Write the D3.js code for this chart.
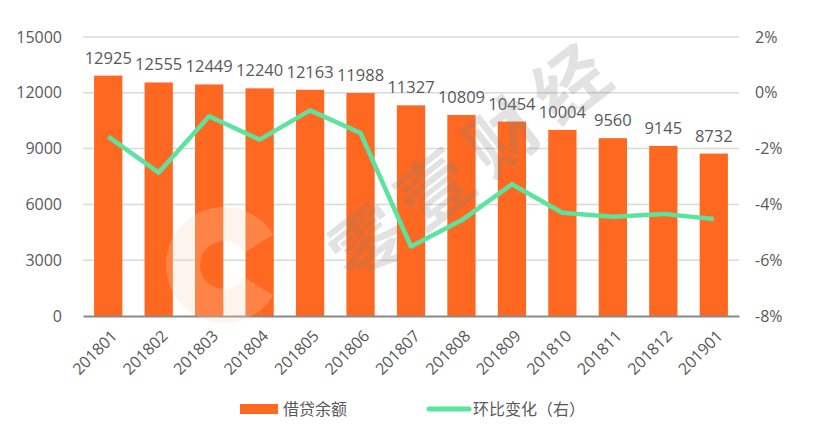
<!DOCTYPE html>
<html>
<head>
<meta charset="utf-8">
<script src="https://cdn.jsdelivr.net/npm/d3@7"></script>
<style>
  body { margin: 0; background: #fff; }
  text { font-family: "Open Sans", "Noto Sans CJK SC", sans-serif; }
</style>
</head>
<body>
<svg id="chart"></svg>
<script>
// Data
const months = ["201801", "201802", "201803", "201804", "201805", "201806", "201807",
                "201808", "201809", "201810", "201811", "201812", "201901"];
const balance = [12925, 12555, 12449, 12240, 12163, 11988, 11327, 10809, 10454, 10004, 9560, 9145, 8732];
const momChange = [-1.57, -2.86, -0.84, -1.68, -0.63, -1.44, -5.51, -4.57, -3.28, -4.30, -4.44, -4.34, -4.52];
const leftTicks = [0, 3000, 6000, 9000, 12000, 15000];
const rightTicks = [-8, -6, -4, -2, 0, 2];

const width = 819, height = 425;
const margin = {top: 37, right: 80, bottom: 109, left: 83};
const barColor = "#fe6821";
const lineColor = "#5ce3a0";
const textColor = "#595959";

const svg = d3.select("#chart")
    .attr("width", width)
    .attr("height", height);

// Scales
const x = d3.scaleBand()
    .domain(months)
    .range([margin.left, width - margin.right])
    .paddingInner(0.44)
    .paddingOuter(0.22);

const yLeft = d3.scaleLinear()
    .domain([0, 15000])
    .range([height - margin.bottom, margin.top]);

const yRight = d3.scaleLinear()
    .domain([-8, 2])
    .range([height - margin.bottom, margin.top]);

// Grid lines
svg.append("g")
    .selectAll("line")
    .data(leftTicks.slice(1))
    .enter()
    .append("line")
    .attr("x1", margin.left)
    .attr("x2", width - margin.right)
    .attr("y1", d => yLeft(d))
    .attr("y2", d => yLeft(d))
    .attr("stroke", "#d9d9d9")
    .attr("stroke-width", 1.5);

// Left axis
const leftAxis = svg.append("g")
    .attr("transform", `translate(${margin.left},0)`)
    .call(d3.axisLeft(yLeft).tickValues(leftTicks).tickSize(0).tickPadding(21)
        .tickFormat(d3.format("d")));
leftAxis.select(".domain").remove();
leftAxis.selectAll("text").attr("fill", textColor).style("font-size", "16px");

// Right axis
const rightAxis = svg.append("g")
    .attr("transform", `translate(${width - margin.right},0)`)
    .call(d3.axisRight(yRight).tickValues(rightTicks).tickSize(0).tickPadding(16)
        .tickFormat(d => d + "%"));
rightAxis.select(".domain").remove();
rightAxis.selectAll("text").attr("fill", textColor).style("font-size", "16px");

// Bars
svg.append("g")
    .selectAll("rect")
    .data(balance)
    .enter()
    .append("rect")
    .attr("x", (d, i) => x(months[i]))
    .attr("y", d => yLeft(d))
    .attr("width", x.bandwidth())
    .attr("height", d => yLeft(0) - yLeft(d))
    .attr("fill", barColor);

// Bar labels
svg.append("g")
    .selectAll("text")
    .data(balance)
    .enter()
    .append("text")
    .attr("x", (d, i) => x(months[i]) + x.bandwidth() / 2)
    .attr("y", d => yLeft(d) - 12)
    .attr("text-anchor", "middle")
    .attr("fill", textColor)
    .style("font-size", "16.5px")
    .text(d => d);

// Bottom axis
const bottomAxis = svg.append("g")
    .attr("transform", `translate(0,${yLeft(0)})`)
    .call(d3.axisBottom(x).tickSize(0).tickPadding(0));
bottomAxis.select(".domain").attr("stroke", "#898989").attr("stroke-width", 2);
bottomAxis.selectAll("text")
    .attr("fill", textColor)
    .style("font-size", "16px")
    .attr("text-anchor", "end")
    .attr("dy", "0.35em")
    .attr("transform", "translate(6,17) rotate(-45)");

// Watermark
const wm = svg.append("g").attr("pointer-events", "none");
wm.append("path")
    .attr("transform", "translate(224,265)")
    .attr("d", d3.arc().innerRadius(24).outerRadius(58)
        .startAngle(Math.PI / 2 + 0.55).endAngle(Math.PI / 2 - 0.55 + 2 * Math.PI)())
    .attr("fill", "#fbd3bc")
    .attr("opacity", 0.25);
wm.append("text")
    .attr("transform", "translate(475,160) rotate(-38)")
    .attr("text-anchor", "middle")
    .attr("dy", "0.35em")
    .attr("fill", "#808080")
    .attr("opacity", 0.22)
    .style("font-family", "'Noto Sans CJK SC'")
    .style("font-weight", "bold")
    .style("font-size", "72px")
    .style("letter-spacing", "14px")
    .text("零壹财经");

// Line
const line = d3.line()
    .x((d, i) => x(months[i]) + x.bandwidth() / 2)
    .y(d => yRight(d));

svg.append("path")
    .datum(momChange)
    .attr("d", line)
    .attr("fill", "none")
    .attr("stroke", lineColor)
    .attr("stroke-width", 4.5)
    .attr("stroke-linejoin", "round");

// Legend
const legend = svg.append("g").style("font-family", "'Noto Sans CJK SC'");
legend.append("rect")
    .attr("x", 240).attr("y", 404)
    .attr("width", 38).attr("height", 10)
    .attr("fill", barColor);
legend.append("text")
    .attr("x", 283).attr("y", 409)
    .attr("dy", "0.35em")
    .attr("fill", textColor)
    .style("font-size", "16px")
    .text("借贷余额");
legend.append("line")
    .attr("x1", 429).attr("x2", 469)
    .attr("y1", 409).attr("y2", 409)
    .attr("stroke", lineColor)
    .attr("stroke-width", 5)
    .attr("stroke-linecap", "round");
legend.append("text")
    .attr("x", 473).attr("y", 409)
    .attr("dy", "0.35em")
    .attr("fill", textColor)
    .style("font-size", "16px")
    .text("环比变化（右）");
</script>
</body>
</html>
